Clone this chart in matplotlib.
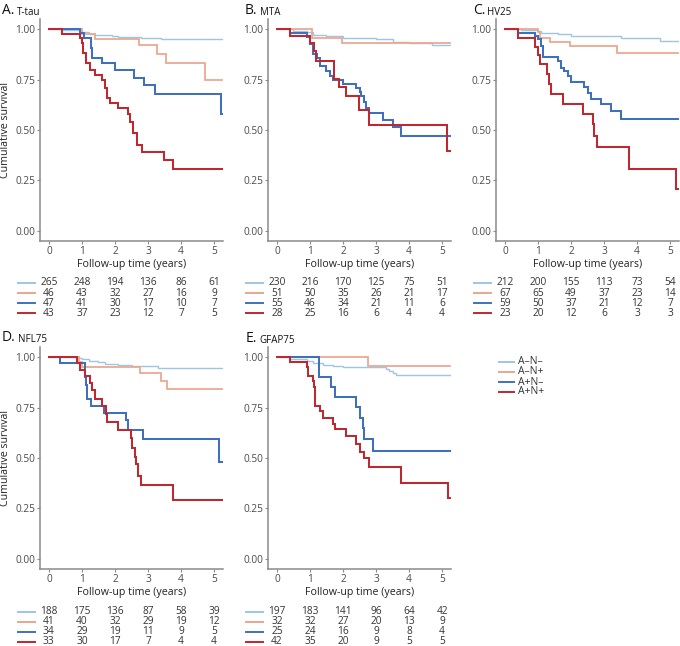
import matplotlib
matplotlib.use("Agg")
import matplotlib.pyplot as plt
from matplotlib.lines import Line2D
from matplotlib.transforms import blended_transform_factory

plt.rcParams['font.family'] = ['Open Sans', 'DejaVu Sans']

# ---------------- data ----------------
GROUPS = ["A\u2013N\u2013", "A\u2013N+", "A+N\u2013", "A+N+"]
COLORS = ["#9dc6e5", "#eba58d", "#3f70c0", "#c2262e"]
LWS = [1.0, 1.25, 1.45, 1.45]
RISK_TIMES = [0, 1, 2, 3, 4, 5]
END_TIME = 5.25

# Panel A: T-tau
ttau_t = [[0.4, 0.9, 1.0, 1.2, 1.4, 1.9, 2.1, 2.8, 3.4],
          [0.99, 1.39, 2.74, 3.26, 3.54, 4.71],
          [0.95, 1.06, 1.27, 1.3, 1.6, 2.0, 2.58, 2.88, 3.22, 5.2],
          [0.4, 0.93, 1.0, 1.04, 1.12, 1.24, 1.39, 1.6, 1.7, 1.77, 1.85, 2.1, 2.38, 2.45, 2.54, 2.66, 2.81, 3.48, 3.77]]
ttau_s = [[0.995, 0.99, 0.985, 0.977, 0.972, 0.966, 0.961, 0.955, 0.949],
          [0.978, 0.952, 0.92, 0.876, 0.833, 0.748],
          [0.979, 0.957, 0.904, 0.855, 0.83, 0.797, 0.76, 0.723, 0.677, 0.58],
          [0.977, 0.955, 0.93, 0.88, 0.83, 0.797, 0.772, 0.748, 0.706, 0.66, 0.632, 0.61, 0.58, 0.54, 0.483, 0.426, 0.393, 0.35, 0.305]]
ttau_risk = [[265, 248, 194, 136, 86, 61], [46, 43, 32, 27, 16, 9],
             [47, 41, 30, 17, 10, 7], [43, 37, 23, 12, 7, 5]]

# Panel B: MTA
mta_t = [[0.5, 0.9, 1.1, 1.5, 2.0, 3.0, 3.5, 4.0, 4.7],
         [1.05, 1.97],
         [0.4, 0.9, 1.0, 1.1, 1.2, 1.3, 1.5, 1.6, 1.7, 2.0, 2.4, 2.5, 2.55, 2.65, 2.7, 2.8, 3.2, 3.5, 3.75],
         [0.4, 1.0, 1.12, 1.17, 1.74, 1.87, 2.09, 2.47, 2.78, 5.16]]
mta_s = [[0.99, 0.985, 0.972, 0.965, 0.955, 0.95, 0.937, 0.93, 0.92],
         [0.957, 0.929],
         [0.982, 0.96, 0.924, 0.879, 0.855, 0.818, 0.793, 0.77, 0.747, 0.727, 0.71, 0.69, 0.67, 0.64, 0.61, 0.582, 0.55, 0.516, 0.469],
         [0.964, 0.929, 0.893, 0.841, 0.755, 0.714, 0.669, 0.60, 0.527, 0.395]]
mta_risk = [[230, 216, 170, 125, 75, 51], [51, 50, 35, 26, 21, 17],
            [55, 46, 34, 21, 11, 6], [28, 25, 16, 6, 4, 4]]

# Panel C: HV25
hv_t = [[0.5, 1.0, 1.1, 1.6, 2.0, 3.5, 4.7],
        [1.0, 1.05, 1.37, 1.97, 3.4],
        [0.4, 0.9, 1.0, 1.1, 1.15, 1.6, 1.7, 1.8, 1.9, 2.0, 2.4, 2.5, 2.6, 2.9, 3.2, 3.5],
        [0.4, 0.92, 1.0, 1.05, 1.28, 1.33, 1.39, 1.77, 2.37, 2.66, 2.7, 2.8, 3.75, 5.18]]
hv_s = [[0.995, 0.99, 0.98, 0.975, 0.968, 0.957, 0.942],
        [0.985, 0.955, 0.934, 0.917, 0.884],
        [0.983, 0.966, 0.95, 0.915, 0.863, 0.84, 0.805, 0.79, 0.77, 0.739, 0.711, 0.685, 0.656, 0.628, 0.595, 0.554],
        [0.957, 0.912, 0.87, 0.825, 0.777, 0.727, 0.678, 0.631, 0.577, 0.529, 0.471, 0.416, 0.306, 0.207]]
hv_risk = [[212, 200, 155, 113, 73, 54], [67, 65, 49, 37, 23, 14],
           [59, 50, 37, 21, 12, 7], [23, 20, 12, 6, 3, 3]]

# Panel D: NFL75
nfl_t = [[0.9, 1.0, 1.2, 1.5, 1.7, 2.1, 2.5, 3.3],
         [0.9, 1.0, 2.75, 3.4, 3.57],
         [0.35, 1.1, 1.13, 1.15, 1.28, 1.67, 2.34, 2.39, 2.86, 5.15],
         [0.85, 0.95, 1.1, 1.25, 1.3, 1.4, 1.6, 1.72, 1.75, 2.08, 2.47, 2.5, 2.6, 2.65, 2.7, 2.8, 3.75]]
nfl_s = [[0.995, 0.99, 0.98, 0.975, 0.967, 0.962, 0.955, 0.944],
         [0.976, 0.949, 0.921, 0.883, 0.841],
         [0.97, 0.9, 0.863, 0.793, 0.757, 0.722, 0.69, 0.64, 0.595, 0.478],
         [0.97, 0.937, 0.904, 0.871, 0.838, 0.793, 0.759, 0.72, 0.68, 0.64, 0.60, 0.552, 0.504, 0.47, 0.413, 0.364, 0.293]]
nfl_risk = [[188, 175, 136, 87, 58, 39], [41, 40, 32, 29, 19, 12],
            [34, 29, 19, 11, 9, 5], [33, 30, 17, 7, 4, 4]]

# Panel E: GFAP75
gfap_t = [[0.4, 0.9, 1.1, 1.4, 1.7, 2.0, 3.3, 3.4, 3.5, 3.6],
          [2.75],
          [1.28, 1.65, 1.75, 2.4, 2.5, 2.62, 2.65, 2.9],
          [0.4, 0.9, 0.95, 1.1, 1.13, 1.15, 1.3, 1.4, 1.7, 1.75, 2.1, 2.4, 2.5, 2.65, 2.8, 3.75, 5.18]]
gfap_s = [[0.99, 0.98, 0.97, 0.96, 0.955, 0.949, 0.94, 0.93, 0.92, 0.911],
          [0.957],
          [0.90, 0.85, 0.80, 0.752, 0.70, 0.65, 0.595, 0.537],
          [0.976, 0.95, 0.904, 0.88, 0.85, 0.759, 0.735, 0.70, 0.67, 0.645, 0.61, 0.57, 0.532, 0.50, 0.453, 0.375, 0.30]]
gfap_risk = [[197, 183, 141, 96, 64, 42], [32, 32, 27, 20, 13, 9],
             [25, 24, 16, 9, 8, 4], [42, 35, 20, 9, 5, 5]]

PANELS = [
    ("A.", "T-tau", ttau_t, ttau_s, ttau_risk),
    ("B.", "MTA", mta_t, mta_s, mta_risk),
    ("C.", "HV25", hv_t, hv_s, hv_risk),
    ("D.", "NFL75", nfl_t, nfl_s, nfl_risk),
    ("E.", "GFAP75", gfap_t, gfap_s, gfap_risk),
]

# ---------------- layout (pixels) ----------------
W, H = 680, 646
fig = plt.figure(figsize=(W / 100, H / 100), dpi=100)

AX_W, AX_H = 183, 222
# (spine left, axes top, title x, title baseline, risk rows top y, show ylabel)
LAYOUT = [
    (40, 19, 2, 14, 283, True),
    (268, 19, 245, 14, 283, False),
    (496, 19, 473, 14, 283, False),
    (40, 347, 2, 341, 612, True),
    (268, 347, 246, 342, 612, False),
]

SPINE_C = "#8a8a8a"
TICK_LBL_C = "#4a4a4a"
TXT_C = "#222222"


def fx(px):
    return px / W


def fy(py):
    return 1 - py / H


for (letter, name, tt, ss, risk), (left, top, tx, tyb, ry, ylab) in zip(PANELS, LAYOUT):
    ax = fig.add_axes([fx(left), fy(top + AX_H), AX_W / W, AX_H / H])
    for g in range(4):
        times = [0] + tt[g] + [END_TIME]
        surv = [1.0] + ss[g] + [ss[g][-1]]
        ax.step(times, surv, where="post", color=COLORS[g], lw=LWS[g],
                solid_joinstyle="miter")
    ax.set_xlim(-0.27, 5.27)
    ax.set_ylim(-0.05, 1.05)
    ax.set_xticks(RISK_TIMES)
    ax.set_yticks([0, 0.25, 0.5, 0.75, 1.0])
    ax.set_yticklabels(["0.00", "0.25", "0.50", "0.75", "1.00"])
    for sp in ["top", "right"]:
        ax.spines[sp].set_visible(False)
    for sp in ["left", "bottom"]:
        ax.spines[sp].set_color(SPINE_C)
        ax.spines[sp].set_linewidth(1.1)
    ax.tick_params(axis="both", length=2.2, width=0.8, color=SPINE_C,
                   labelsize=7.3, labelcolor=TICK_LBL_C, pad=1.2)
    ax.set_xlabel("Follow-up time (years)", fontsize=7.7, color=TXT_C, labelpad=2)
    if ylab:
        ax.set_ylabel("Cumulative survival", fontsize=7.7, color=TXT_C, labelpad=3)

    # title
    t1 = fig.text(fx(tx), fy(tyb), letter, fontsize=10, color="#111111",
                  va="baseline", ha="left")
    ax.annotate(name, xy=(1, 0), xycoords=t1, xytext=(1.5, 0),
                textcoords="offset points", fontsize=7, color="#111111",
                va="bottom", ha="left", annotation_clip=False)

    # risk table
    tr = blended_transform_factory(ax.transData, fig.transFigure)
    for g in range(4):
        yc = fy(ry + 10 * g)
        for k, tval in enumerate(RISK_TIMES):
            fig.text(tval, yc, str(risk[g][k]), transform=tr, ha="center",
                     va="center", fontsize=7.3, color="#333333")
        fig.add_artist(Line2D([fx(left - 22), fx(left - 5)], [yc, yc],
                              transform=fig.transFigure, color=COLORS[g], lw=1.4))

# legend
for g in range(4):
    yc = fy(362 + 10 * g)
    fig.add_artist(Line2D([fx(499), fx(514)], [yc, yc], transform=fig.transFigure,
                          color=COLORS[g], lw=1.4))
    fig.text(fx(518), yc, GROUPS[g], fontsize=7.5, color="#333333",
             ha="left", va="center")

fig.savefig("out.png", dpi=100)
